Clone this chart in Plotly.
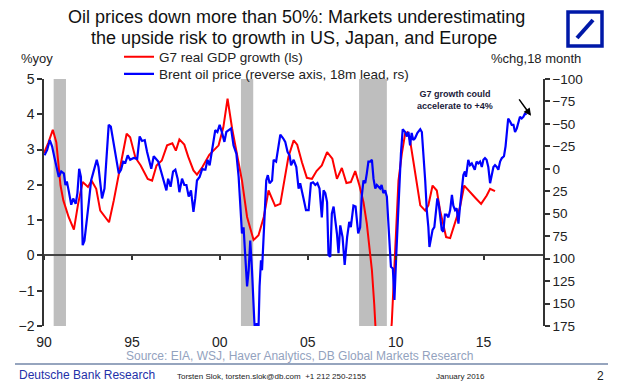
import plotly.graph_objects as go

# ---------------- data ----------------
gdp_years = [1990.0, 1990.25, 1990.5, 1990.7, 1990.94, 1991.1, 1991.4, 1991.7, 1991.94, 1992.2,
             1992.5, 1992.7, 1992.97, 1993.2, 1993.7, 1993.97, 1994.35, 1994.7, 1994.9, 1995.2,
             1995.5, 1995.9, 1996.15, 1996.4, 1996.7, 1997.0, 1997.3, 1997.5, 1997.7, 1997.98,
             1998.2, 1998.5, 1998.7, 1999.0, 1999.4, 1999.93, 2000.2, 2000.44, 2000.7, 2000.98,
             2001.26, 2001.55, 2001.92, 2002.2, 2002.5, 2002.77, 2003.15, 2003.44, 2003.7, 2003.9,
             2004.2, 2004.4, 2004.67, 2004.95, 2005.24, 2005.5, 2005.8, 2006.1, 2006.4, 2006.66,
             2006.94, 2007.2, 2007.45, 2007.7, 2007.94, 2008.17, 2008.36, 2008.55, 2008.65, 2008.78,
             2008.9, 2009.1, 2009.3, 2009.55, 2009.78, 2009.88, 2010.03, 2010.16, 2010.35, 2010.54,
             2010.67, 2010.82, 2011.0, 2011.2, 2011.4, 2011.68, 2011.86, 2012.1, 2012.34, 2012.53,
             2012.7, 2012.87, 2013.1, 2013.38, 2013.66, 2013.9, 2014.23, 2014.5, 2014.86, 2015.18,
             2015.37, 2015.65]
gdp_values = [2.9, 3.2, 3.56, 3.21, 1.98, 1.56, 1.09, 0.73, 1.46, 2.08,
              1.94, 2.12, 1.89, 1.27, 0.94, 1.56, 2.55, 3.45, 3.35, 2.77,
              2.55, 2.17, 2.12, 2.55, 2.69, 3.12, 3.18, 2.97, 3.29, 3.14,
              2.80, 2.41, 2.29, 2.50, 2.85, 3.12, 3.63, 4.44, 3.59, 2.88,
              2.12, 1.09, 0.44, 0.57, 1.09, 1.84, 1.40, 1.46, 2.22, 2.79,
              3.26, 3.14, 2.64, 2.20, 2.17, 2.39, 2.55, 2.93, 2.74, 2.17,
              2.48, 2.05, 2.08, 2.39, 1.98, 1.51, 0.90, 0.0, -0.42, -1.37,
              -2.6, -4.3, -4.5, -3.3, -1.9, -0.9, 0.99, 2.12, 2.88, 3.45,
              3.49, 3.26, 2.69, 2.03, 1.42, 1.27, 1.42, 1.98, 1.84, 1.27,
              0.85, 0.52, 0.49, 0.90, 1.37, 1.98, 1.79, 1.65, 1.46, 1.70,
              1.89, 1.82]

brent_years = [1990.03, 1990.18, 1990.33, 1990.46, 1990.6, 1990.75, 1990.84, 1990.98, 1991.13, 1991.22,
               1991.3, 1991.4, 1991.55, 1991.66, 1991.8, 1991.9, 1992.0, 1992.1, 1992.2, 1992.3,
               1992.4, 1992.55, 1992.68, 1992.83, 1992.93, 1993.0, 1993.1, 1993.2, 1993.3, 1993.44,
               1993.55, 1993.68, 1993.8, 1993.97, 1994.1, 1994.25, 1994.38, 1994.5, 1994.63, 1994.76,
               1994.9, 1995.1, 1995.3, 1995.44, 1995.58, 1995.73, 1995.86, 1996.0, 1996.1, 1996.24,
               1996.4, 1996.5, 1996.66, 1996.8, 1996.96, 1997.06, 1997.2, 1997.34, 1997.47, 1997.6,
               1997.7, 1997.85, 1997.98, 1998.1, 1998.23, 1998.36, 1998.5, 1998.6, 1998.7, 1998.85,
               1999.0, 1999.1, 1999.18, 1999.3, 1999.42, 1999.56, 1999.74, 1999.86, 1999.99, 2000.13,
               2000.26, 2000.37, 2000.5, 2000.64, 2000.78, 2000.94, 2001.07, 2001.17, 2001.26, 2001.35,
               2001.45, 2001.55, 2001.64, 2001.73, 2001.83, 2001.92, 2001.98, 2002.1, 2002.2, 2002.26,
               2002.34, 2002.4, 2002.5, 2002.64, 2002.73, 2002.83, 2002.97, 2003.06, 2003.2, 2003.34,
               2003.44, 2003.6, 2003.72, 2003.85, 2003.97, 2004.05, 2004.2, 2004.35, 2004.48, 2004.57,
               2004.67, 2004.76, 2004.9, 2005.05, 2005.18, 2005.3, 2005.43, 2005.55, 2005.67, 2005.8,
               2005.9, 2006.0, 2006.1, 2006.18, 2006.28, 2006.37, 2006.47, 2006.56, 2006.66, 2006.75,
               2006.85, 2006.98, 2007.1, 2007.24, 2007.36, 2007.45, 2007.6, 2007.72, 2007.87, 2007.98,
               2008.07, 2008.17, 2008.27, 2008.36, 2008.45, 2008.55, 2008.65, 2008.74, 2008.84, 2008.93,
               2009.02, 2009.12, 2009.2, 2009.3, 2009.4, 2009.5, 2009.6, 2009.73, 2009.84, 2009.93,
               2010.03, 2010.13, 2010.2, 2010.3, 2010.4, 2010.54, 2010.64, 2010.73, 2010.82, 2010.91,
               2011.0, 2011.1, 2011.24, 2011.4, 2011.49, 2011.58, 2011.68, 2011.77, 2011.86, 2011.92,
               2012.0, 2012.1, 2012.2, 2012.3, 2012.37, 2012.45, 2012.53, 2012.62, 2012.71, 2012.8,
               2012.9, 2013.0, 2013.1, 2013.2, 2013.28, 2013.38, 2013.47, 2013.57, 2013.66, 2013.76,
               2013.85, 2013.94, 2014.0, 2014.13, 2014.23, 2014.33, 2014.42, 2014.5, 2014.6, 2014.7,
               2014.8, 2014.9, 2014.99, 2015.08, 2015.17, 2015.27, 2015.37, 2015.46, 2015.56, 2015.65,
               2015.75, 2015.84, 2015.94, 2016.04, 2016.16, 2016.25, 2016.3, 2016.4, 2016.5, 2016.6,
               2016.7, 2016.79, 2016.89, 2016.98, 2017.07, 2017.17, 2017.27, 2017.36, 2017.42]
brent_values = [-15, -21, -32, -25, -12, 0, 9, 3, 5, 18,
                14, 24, 40, 33, 39, 27, 0, 9, 85, 80,
                65, 37, 13, 3, -6, -10, -2, 20, 33, 22,
                -10, -49, -47, -28, -12, 5, 1, -8, -7, -15,
                -10, -12, -11, -36, -31, -32, -19, -6, 0, -14,
                -10, -8, 3, 13, 24, 11, 20, 3, 1, 11,
                26, 11, 18, 18, 31, 24, 48, 33, 13, 9,
                0, 1, 1, -10, -4, -21, -43, -41, -49, -40,
                -30, -41, -43, -45, -26, -17, 9, 46, 72, 65,
                105, 131, 113, 80, 113, 158, 178, 172, 178, 131,
                102, 113, 68, 13, 7, 16, 13, -10, -8, -23,
                -38, -34, -30, -19, -15, -4, -10, -2, 22, 16,
                24, 33, 46, 46, 16, 15, 18, 16, 22, 54,
                24, 27, 37, 96, 98, 50, 42, 55, 72, 94,
                63, 76, 107, 76, 59, 65, 41, 42, 72, 65,
                31, 13, 16, 5, -8, -8, -10, 11, 22, 18,
                20, 22, 18, 27, 24, 31, 65, 109, 111, 146,
                98, 57, 16, -17, -44, -41, -36, -41, -26, -40,
                -32, -34, -40, -44, -41, -17, 13, 46, 65, 87,
                76, 68, 65, 46, 33, 39, 57, 68, 70, 51,
                51, 54, 46, 29, 41, 46, 44, 61, 42, 24,
                7, 3, 9, -10, -4, -6, -2, 1, -8, -6,
                -8, -2, -10, -12, -10, -2, 16, 5, -2, -4,
                -2, 1, -8, -12, -14, -25, -36, -56, -53, -49,
                -49, -41, -45, -51, -58, -56, -58, -62, -60]

recession_starts = [1990.55, 2001.2, 2007.92]
recession_ends = [1991.25, 2001.9, 2009.5]

x_tick_vals = [1990, 1995, 2000, 2005, 2010, 2015]
x_tick_text = ["90", "95", "00", "05", "10", "15"]
left_tick_vals = [-2, -1, 0, 1, 2, 3, 4, 5]
right_tick_vals = [-100, -75, -50, -25, 0, 25, 50, 75, 100, 125, 150, 175]

# ---------------- figure ----------------
FONT = "Arial, Liberation Sans, sans-serif"
X_RANGE = [1990, 2018.38]

W, H, L = 499.0, 247.0, 44.0


def px(xp):
    return (xp - L) / W


def py(yp):
    return (326.0 - yp) / H


fig = go.Figure()

fig.add_trace(go.Scatter(
    x=gdp_years, y=gdp_values, mode="lines", name="G7 real GDP growth (ls)",
    line=dict(color="#FF0000", width=2), xaxis="x", yaxis="y", legend="legend"))
fig.add_trace(go.Scatter(
    x=brent_years, y=brent_values, mode="lines",
    name="Brent oil price (reverse axis, 18m lead, rs)",
    line=dict(color="#0000FF", width=2.2), xaxis="x", yaxis="y2", legend="legend2"))
# invisible helper so the tick axis on the zero line renders
fig.add_trace(go.Scatter(
    x=gdp_years, y=gdp_values, mode="lines", line=dict(width=0), opacity=0,
    showlegend=False, hoverinfo="skip", xaxis="x2", yaxis="y"))

for s, e in zip(recession_starts, recession_ends):
    fig.add_vrect(x0=s, x1=e, fillcolor="#BEBEBE", opacity=1, line_width=0, layer="below")

axis_col = "#333333"
legend_common = dict(xanchor="left", yanchor="middle", bgcolor="rgba(0,0,0,0)",
                     font=dict(size=13.5, color="#222222"), itemwidth=30,
                     borderwidth=0)
fig.update_layout(
    width=617, height=387,
    margin=dict(l=44, r=74, t=79, b=61),
    paper_bgcolor="white", plot_bgcolor="white",
    font=dict(family=FONT, color="#1a1a1a"),
    xaxis=dict(range=X_RANGE, tickvals=x_tick_vals, ticktext=x_tick_text,
               showline=False, showgrid=False, zeroline=False, ticks="",
               tickfont=dict(size=14, color="#222222"), ticklabelstandoff=6),
    xaxis2=dict(range=X_RANGE, overlaying="x", anchor="free", position=2 / 7,
                tickvals=x_tick_vals, ticks="outside", ticklen=4, tickwidth=1.5,
                tickcolor=axis_col, showticklabels=False, showline=False,
                showgrid=False, zeroline=False),
    yaxis=dict(range=[-2, 5], tickvals=left_tick_vals, showgrid=False,
               showline=True, linecolor=axis_col, linewidth=1.5,
               ticks="outside", ticklen=5, tickwidth=1.5, tickcolor=axis_col,
               zeroline=True, zerolinecolor="#444444", zerolinewidth=1.5,
               tickfont=dict(size=14, color="#222222")),
    yaxis2=dict(range=[175, -100], overlaying="y", side="right", anchor="x",
                tickvals=right_tick_vals, showgrid=False, zeroline=False,
                showline=True, linecolor=axis_col, linewidth=1.5,
                ticks="outside", ticklen=5, tickwidth=1.5, tickcolor=axis_col,
                tickfont=dict(size=13.5, color="#222222")),
    legend=dict(x=px(119), y=py(57), **legend_common),
    legend2=dict(x=px(119), y=py(74), **legend_common),
    showlegend=True,
)

ann = []
ann.append(dict(text="Oil prices down more than 50%: Markets underestimating",
                x=px(296), y=py(17), xref="paper", yref="paper", showarrow=False,
                font=dict(size=18, color="#111111"), xanchor="center", yanchor="middle"))
ann.append(dict(text="the upside risk to growth in US, Japan, and Europe",
                x=px(294), y=py(38.5), xref="paper", yref="paper", showarrow=False,
                font=dict(size=18, color="#111111"), xanchor="center", yanchor="middle"))
ann.append(dict(text="%yoy", x=px(37), y=py(59), xref="paper", yref="paper",
                showarrow=False, font=dict(size=13, color="#222222"), xanchor="center", yanchor="middle"))
ann.append(dict(text="%chg,18 month", x=px(536), y=py(59), xref="paper", yref="paper",
                showarrow=False, font=dict(size=13, color="#222222"), xanchor="center", yanchor="middle"))
ann.append(dict(text="<b>G7 growth could<br>accelerate to +4%</b>", x=2013.4, y=4.4,
                xref="x", yref="y", showarrow=False,
                font=dict(size=9, color="#1a1a3a"), xanchor="center", yanchor="middle"))
ann.append(dict(text="", x=2017.7, y=-59, xref="x", yref="y2", showarrow=True,
                ax=-13, ay=-18, arrowhead=2, arrowsize=1, arrowwidth=1.5, arrowcolor="#000000"))
ann.append(dict(text="Source: EIA, WSJ, Haver Analytics, DB Global Markets Research",
                x=px(299), y=py(356), xref="paper", yref="paper", showarrow=False,
                font=dict(size=12, color="#93A2BE"), xanchor="center", yanchor="middle"))
ann.append(dict(text="Deutsche Bank Research", x=px(17), y=py(375), xref="paper", yref="paper",
                showarrow=False, font=dict(size=12, color="#2330A8"), xanchor="left", yanchor="middle"))
ann.append(dict(text="Torsten Slok, torsten.slok@db.com  +1 212 250-2155", x=px(175), y=py(376),
                xref="paper", yref="paper", showarrow=False,
                font=dict(size=8, color="#222222"), xanchor="left", yanchor="middle"))
ann.append(dict(text="January 2016", x=px(434), y=py(376), xref="paper", yref="paper",
                showarrow=False, font=dict(size=8, color="#222222"), xanchor="left", yanchor="middle"))
ann.append(dict(text="2", x=px(600), y=py(376), xref="paper", yref="paper",
                showarrow=False, font=dict(size=12, color="#222222"), xanchor="center", yanchor="middle"))
fig.update_layout(annotations=ann)

shapes = [
    dict(type="line", xref="paper", yref="paper", x0=px(15), x1=px(608), y0=py(364), y1=py(364),
         line=dict(color="#7387A8", width=1.5)),
    dict(type="rect", xref="paper", yref="paper", x0=px(568), x1=px(602), y0=py(46), y1=py(12),
         line=dict(color="#0018A8", width=3.5), fillcolor="white"),
    dict(type="line", xref="paper", yref="paper", x0=px(577), x1=px(593), y0=py(38), y1=py(20),
         line=dict(color="#0018A8", width=4)),
]
for s in shapes:
    fig.add_shape(**s)

fig.write_html("out.html", config={"displayModeBar": False},
               post_script="document.body.style.margin='0px';")
